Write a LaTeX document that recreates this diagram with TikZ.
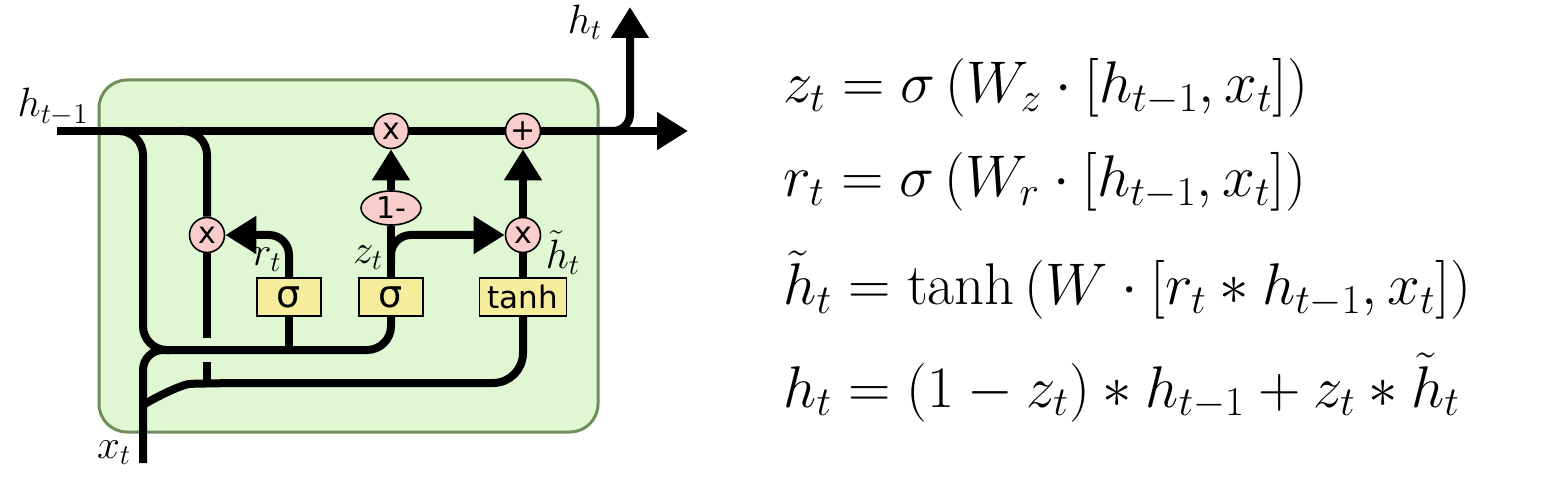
\RequirePackage{fix-cm}
\documentclass[tikz,border=0pt]{standalone}
\usepackage{fontspec}
\newfontfamily\gatefont{DejaVu Sans}
\usetikzlibrary{arrows.meta,positioning,shapes.geometric}
\definecolor{cellfill}{RGB}{223,247,210}
\definecolor{celledge}{RGB}{112,142,92}
\definecolor{opfill}{RGB}{249,205,203}
\definecolor{gatefill}{RGB}{245,236,156}
\tikzset{
  wire/.style={line width=4pt},
  flow/.style={wire, -{Triangle[length=15.5pt,width=18pt]}},
  op/.style={circle, draw, line width=0.8pt, fill=opfill, minimum size=17.5pt, inner sep=0pt, font=\gatefont\fontsize{15}{15}\selectfont},
  gate/.style={rectangle, draw, line width=0.8pt, fill=gatefill, minimum height=19pt, inner sep=0pt},
  lbl/.style={inner sep=0pt, font=\fontsize{20.5}{20.5}\selectfont},
  eq/.style={anchor=base west, inner sep=0pt, font=\fontsize{29.4}{31}\selectfont},
}
\begin{document}
\begin{tikzpicture}[x=0.5pt, y=-0.5pt]
    \useasboundingbox (0,0) rectangle (1560,481);
    % cell
    \draw[celledge, fill=cellfill, line width=1.5pt, rounded corners=14pt] (99,80) rectangle (598,432);
    % operations and gates
    \node[op] (mulz) at (391,131) {x};
    \node[op] (add) at (523,131) {+};
    \node[op] (mulr) at (207,235) {x};
    \node[op] (mulh) at (523,235) {x};
    \node[op, ellipse, minimum width=30pt, minimum height=17pt] (oneminus) at (391,208) {1-};
    \node[gate, minimum width=32pt, font=\gatefont\fontsize{19}{19}\selectfont] (rbox) at (289,297) {σ};
    \node[gate, minimum width=32pt, font=\gatefont\fontsize{19}{19}\selectfont] (zbox) at (391,297) {σ};
    \node[gate, minimum width=43.5pt, font=\gatefont\fontsize{15.5}{15.5}\selectfont] (tanhbox) at (523,297) {tanh};
    % free ends and joins
    \coordinate (hin) at (57,131);
    \coordinate (hout) at (688,131);
    \coordinate (hsplit) at (600,131);
    \coordinate (htip) at (630,7);
    \coordinate (hsplitg) at (118,131);
    \coordinate (hsplitr) at (180,131);
    \coordinate (gapa) at (207,338);
    \coordinate (gapb) at (207,362);
    \coordinate (lowjoin) at (207,385);
    \coordinate (rjoin) at (289,350);
    \coordinate (xin) at (143,463);
    \coordinate (xsplit) at (143,405);
    \coordinate (zsplit) at (391,265);
    % wires
    \draw[wire] (hin) -- (mulz) -- (add);
    \draw[flow] (add) -- (hout);
    \draw[flow, rounded corners=8.5pt] (hsplit) -| (htip);
    \draw[wire, rounded corners=12pt] (hsplitr) -| (mulr);
    \draw[wire] (mulr) -- (gapa);
    \draw[wire] (gapb) -- (lowjoin);
    \draw[wire, rounded corners=12pt] (hsplitg) -| (143,350) -| (zbox);
    \draw[wire] (rbox) -- (rjoin);
    \draw[wire, rounded corners=10pt] (xin) |- (170,350);
    \draw[wire, rounded corners=15pt] (xsplit) .. controls (165,392) and (185,384) .. (220,383) -| (tanhbox);
    \draw[flow, rounded corners=10pt] (rbox) |- (mulr);
    \draw[wire] (zbox) -- (oneminus);
    \draw[flow] (oneminus) -- (mulz);
    \draw[flow, rounded corners=10pt] (zsplit) |- (mulh);
    \draw[wire] (tanhbox) -- (mulh);
    \draw[flow] (mulh) -- (add);
    % labels
    \node[lbl] (lhin) at (53,107) {$h_{t-1}$};
    \node[lbl] (lhout) at (585,22) {$h_t$};
    \node[lbl] (lxin) at (114,453) {$x_t$};
    \node[lbl] (lr) at (267,260) {$r_t$};
    \node[lbl] (lz) at (368,258) {$z_t$};
    \node[lbl] (lcand) at (563,253) {$\tilde{h}_t$};
    % equations
    \node[eq] (eqz) at (783,103) {$z_t = \sigma\left(W_z \cdot [h_{t-1}, x_t]\right)$};
    \node[eq] (eqr) at (783,197) {$r_t = \sigma\left(W_r \cdot [h_{t-1}, x_t]\right)$};
    \node[eq] (eqc) at (783,305) {$\tilde{h}_t = \tanh\left(W \cdot [r_t * h_{t-1}, x_t]\right)$};
    \node[eq] (eqh) at (783,407) {$h_t = (1 - z_t) * h_{t-1} + z_t * \tilde{h}_t$};
\end{tikzpicture}
\end{document}
